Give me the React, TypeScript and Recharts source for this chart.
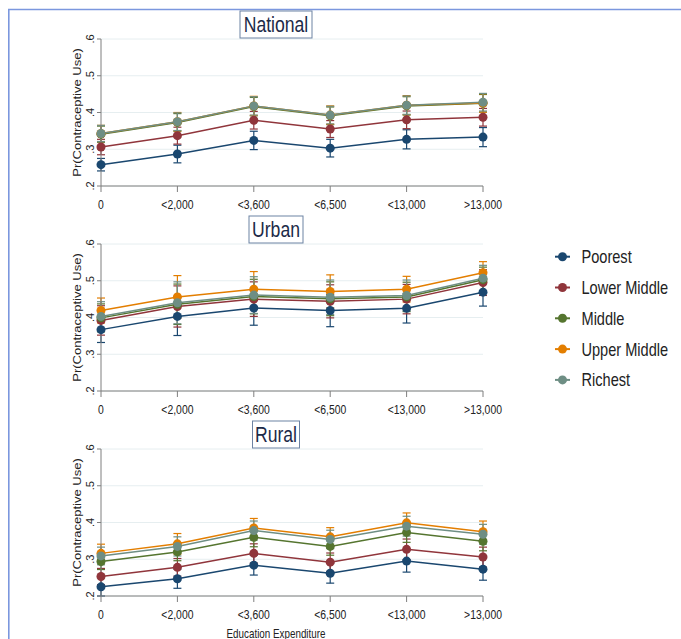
import { LineChart, Line, XAxis, YAxis, CartesianGrid, ErrorBar } from "recharts";

const categories = ["0", "<2,000", "<3,600", "<6,500", "<13,000", ">13,000"];
const groups = ["Poorest", "Lower Middle", "Middle", "Upper Middle", "Richest"];
const groupColors = ["#1a476f", "#90353b", "#55752f", "#e37e00", "#6e8e84"];
const yTicks = [0.2, 0.3, 0.4, 0.5, 0.6];

// National
const nationalPoorest = [0.258, 0.287, 0.324, 0.303, 0.327, 0.333];
const nationalLowerMiddle = [0.306, 0.337, 0.379, 0.355, 0.38, 0.387];
const nationalMiddle = [0.341, 0.373, 0.416, 0.391, 0.418, 0.425];
const nationalUpperMiddle = [0.343, 0.375, 0.418, 0.393, 0.42, 0.426];
const nationalRichest = [0.343, 0.375, 0.418, 0.393, 0.42, 0.428];
const nationalPoorestCI = [0.017, 0.024, 0.025, 0.024, 0.026, 0.026];
const nationalLowerMiddleCI = [0.021, 0.023, 0.024, 0.023, 0.024, 0.024];
const nationalMiddleCI = [0.022, 0.024, 0.025, 0.024, 0.025, 0.024];
const nationalUpperMiddleCI = [0.022, 0.025, 0.026, 0.025, 0.026, 0.025];
const nationalRichestCI = [0.022, 0.024, 0.025, 0.024, 0.025, 0.024];

// Urban
const urbanPoorest = [0.367, 0.403, 0.426, 0.419, 0.425, 0.469];
const urbanLowerMiddle = [0.392, 0.43, 0.45, 0.444, 0.45, 0.495];
const urbanMiddle = [0.399, 0.436, 0.457, 0.451, 0.456, 0.503];
const urbanUpperMiddle = [0.419, 0.456, 0.477, 0.471, 0.477, 0.522];
const urbanRichest = [0.403, 0.44, 0.461, 0.455, 0.46, 0.507];
const urbanPoorestCI = [0.035, 0.052, 0.047, 0.044, 0.04, 0.038];
const urbanLowerMiddleCI = [0.04, 0.056, 0.047, 0.045, 0.04, 0.035];
const urbanMiddleCI = [0.038, 0.055, 0.047, 0.046, 0.04, 0.034];
const urbanUpperMiddleCI = [0.034, 0.058, 0.048, 0.045, 0.035, 0.03];
const urbanRichestCI = [0.04, 0.057, 0.05, 0.047, 0.042, 0.035];

// Rural
const ruralPoorest = [0.225, 0.247, 0.284, 0.262, 0.295, 0.273];
const ruralLowerMiddle = [0.253, 0.278, 0.316, 0.292, 0.327, 0.306];
const ruralMiddle = [0.294, 0.32, 0.36, 0.335, 0.373, 0.349];
const ruralUpperMiddle = [0.316, 0.342, 0.385, 0.361, 0.399, 0.375];
const ruralRichest = [0.309, 0.335, 0.378, 0.354, 0.39, 0.368];
const ruralPoorestCI = [0.025, 0.026, 0.027, 0.027, 0.03, 0.03];
const ruralLowerMiddleCI = [0.022, 0.024, 0.026, 0.025, 0.028, 0.027];
const ruralMiddleCI = [0.022, 0.024, 0.026, 0.024, 0.027, 0.026];
const ruralUpperMiddleCI = [0.025, 0.028, 0.026, 0.025, 0.027, 0.029];
const ruralRichestCI = [0.024, 0.026, 0.026, 0.025, 0.027, 0.027];

const panels = [
  {
    title: "National",
    top: 0,
    boxW: 72,
    values: [nationalPoorest, nationalLowerMiddle, nationalMiddle, nationalUpperMiddle, nationalRichest],
    errors: [nationalPoorestCI, nationalLowerMiddleCI, nationalMiddleCI, nationalUpperMiddleCI, nationalRichestCI],
  },
  {
    title: "Urban",
    top: 205,
    boxW: 54,
    values: [urbanPoorest, urbanLowerMiddle, urbanMiddle, urbanUpperMiddle, urbanRichest],
    errors: [urbanPoorestCI, urbanLowerMiddleCI, urbanMiddleCI, urbanUpperMiddleCI, urbanRichestCI],
  },
  {
    title: "Rural",
    top: 410,
    boxW: 47,
    values: [ruralPoorest, ruralLowerMiddle, ruralMiddle, ruralUpperMiddle, ruralRichest],
    errors: [ruralPoorestCI, ruralLowerMiddleCI, ruralMiddleCI, ruralUpperMiddleCI, ruralRichestCI],
  },
];

const FONT = "'Liberation Sans', Arial, sans-serif";
const AXIS = "#7f7f7f";
const PLOT_TOP = 39;
const PLOT_H = 147;

function buildRows(values: number[][], errors: number[][]) {
  return categories.map((cat, i) => {
    const row: any = { cat };
    values.forEach((v, s) => {
      row["s" + s] = v[i];
      row["e" + s] = errors[s][i];
    });
    return row;
  });
}

const XTick = ({ x, y, payload }: any) => (
  <g transform={`translate(${x},${y})`}>
    <text transform="scale(0.8,1)" textAnchor="middle" dy="0.71em" fontSize={13} fill="#222" fontFamily={FONT}>
      {payload.value}
    </text>
  </g>
);

const YTick = ({ x, y, payload }: any) => (
  <g transform={`translate(${x},${y}) rotate(-90)`}>
    <text textAnchor="middle" fontSize={11} fill="#222" fontFamily={FONT}>
      {"." + Math.round(payload.value * 10)}
    </text>
  </g>
);

function Panel({ panel }: { panel: (typeof panels)[number] }) {
  const rows = buildRows(panel.values, panel.errors);
  return (
    <div style={{ position: "absolute", left: 0, top: panel.top }}>
      <LineChart width={520} height={PLOT_TOP + PLOT_H + 30} data={rows} margin={{ top: PLOT_TOP, right: 37, bottom: 0, left: 0 }}>
        <CartesianGrid stroke="#e6eef0" vertical={false} />
        <XAxis
          dataKey="cat"
          height={30}
          stroke={AXIS}
          tickSize={6}
          tickMargin={8}
          tick={<XTick />}
          interval={0}
        />
        <YAxis
          width={101}
          domain={[0.2, 0.6]}
          ticks={yTicks}
          allowDataOverflow
          stroke={AXIS}
          tickSize={4}
          tickMargin={3}
          tick={<YTick />}
        />
        {groups.map((g, s) => (
          <Line
            key={g}
            dataKey={"s" + s}
            name={g}
            stroke={groupColors[s]}
            strokeWidth={1.5}
            dot={{ r: 4.5, fill: groupColors[s], stroke: groupColors[s], strokeWidth: 0 }}
            isAnimationActive={false}
          >
            <ErrorBar dataKey={"e" + s} width={4} stroke={groupColors[s]} strokeWidth={1.2} direction="y" />
          </Line>
        ))}
      </LineChart>
    </div>
  );
}

export default function App() {
  return (
    <div
      style={{
        position: "absolute",
        left: 0,
        top: 0,
        width: 681,
        height: 639,
        overflow: "hidden",
        background: "#fff",
        fontFamily: FONT,
      }}
    >
      {panels.map((p) => (
        <Panel key={p.title} panel={p} />
      ))}
      <svg width={681} height={639} style={{ position: "absolute", left: 0, top: 0, pointerEvents: "none" }}>
        {/* frame */}
        <line x1={8} y1={9.5} x2={681} y2={9.5} stroke="#7b97de" strokeWidth={1.6} />
        <line x1={8.8} y1={9} x2={8.8} y2={639} stroke="#7b97de" strokeWidth={1.6} />
        {panels.map((p) => {
          const boxTop = p.top + 11;
          const cy = p.top + PLOT_TOP + PLOT_H / 2;
          return (
            <g key={p.title}>
              <rect x={276 - p.boxW / 2} y={boxTop} width={p.boxW} height={27} fill="#fff" stroke="#6d83a3" strokeWidth={1} />
              <text transform={`translate(276,${boxTop + 20.5}) scale(0.8,1)`} textAnchor="middle" fontSize={22} fill="#1c2a48" fontFamily={FONT}>
                {p.title}
              </text>
              <g transform={`translate(81,${cy}) rotate(-90) scale(1,0.82)`}>
                <text textAnchor="middle" fontSize={13} fill="#222" fontFamily={FONT}>
                  Pr(Contraceptive Use)
                </text>
              </g>
            </g>
          );
        })}
        <text transform="translate(276,638) scale(0.82,1)" textAnchor="middle" fontSize={12} fill="#222" fontFamily={FONT}>
          Education Expenditure
        </text>
        {groups.map((g, s) => {
          const y = 256.7 + s * 30.8;
          return (
            <g key={g}>
              <line x1={555} y1={y} x2={570} y2={y} stroke={groupColors[s]} strokeWidth={2} />
              <circle cx={562.5} cy={y} r={4.5} fill={groupColors[s]} />
              <text transform={`translate(581.5,${y + 6.5}) scale(0.81,1)`} fontSize={18} fill="#222" fontFamily={FONT}>
                {g}
              </text>
            </g>
          );
        })}
      </svg>
    </div>
  );
}
